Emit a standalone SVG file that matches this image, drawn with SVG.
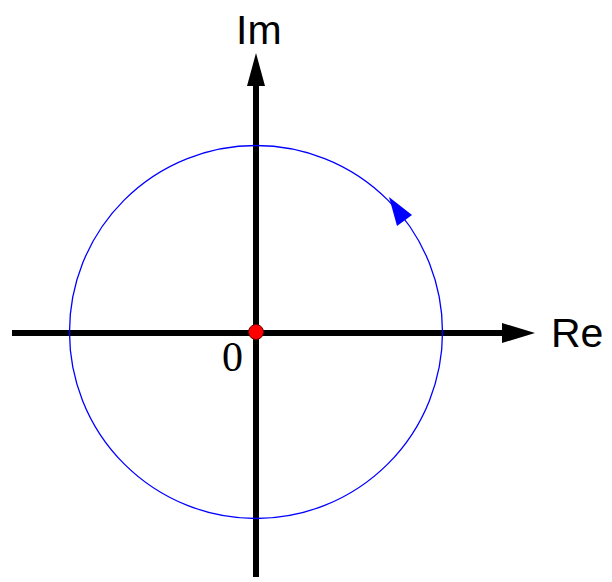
<svg xmlns="http://www.w3.org/2000/svg" width="612" height="582" viewBox="0 0 612 582">
<style>
.axis{stroke:#000;stroke-width:6;fill:none}
.lbl{font-family:"Liberation Sans",Arial,sans-serif;font-size:41px;fill:#000}
</style>
<rect width="612" height="582" fill="#fff"/>
<g id="connectors">
<line class="axis" x1="12" y1="333" x2="506" y2="333"/>
<polygon points="502,323 535,333 502,343" fill="#000"/>
<line class="axis" x1="256" y1="577" x2="256" y2="82"/>
<polygon points="247,86 256,53 265,86" fill="#000"/>
<circle cx="256" cy="332" r="186.5" fill="none" stroke="#0000ff" stroke-width="1.3"/>
<polygon points="389,197 412,215 397,226" fill="#0000ff"/>
</g>
<g id="origin">
<circle cx="256" cy="332" r="7.5" fill="#ff0000" stroke="#600" stroke-width="1"/>
<text x="222" y="371" font-family="'Liberation Serif', 'Times New Roman', serif" font-size="42" fill="#000">0</text>
</g>
<g id="im-label"><text class="lbl" x="236" y="44">Im</text></g>
<g id="re-label"><text class="lbl" x="551" y="347">Re</text></g>
</svg>
